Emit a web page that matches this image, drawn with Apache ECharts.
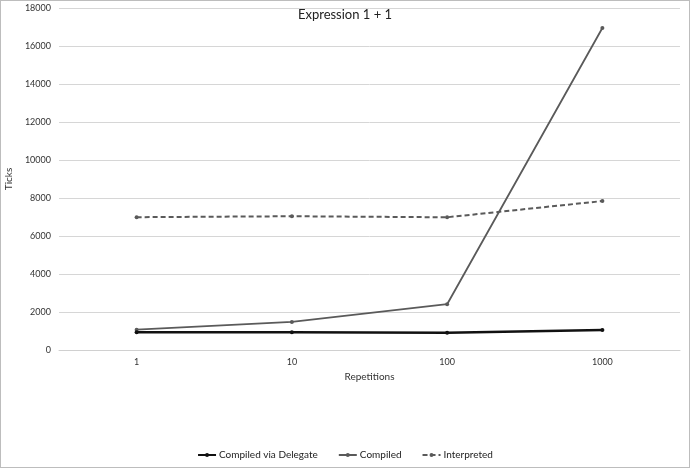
<!DOCTYPE html>
<html><head><meta charset="utf-8">
<script src="https://cdn.jsdelivr.net/npm/echarts@6/dist/echarts.min.js"></script>
<style>html,body{margin:0;padding:0;background:#fff}#c{width:690px;height:468px;box-sizing:border-box;border:1px solid #bdbdbd}</style>
</head><body><div id="c"></div>
<script>
const categories = ['1','10','100','1000'];
const compiledViaDelegate = [930, 940, 910, 1050];
const compiled = [1070, 1480, 2410, 16950];
const interpreted = [6990, 7040, 6985, 7840];
const yTicks = {min: 0, max: 18000, interval: 2000};

const chart = echarts.init(document.getElementById('c'), null, {renderer: 'canvas'});
const font = 'Lato, Carlito, sans-serif';
chart.setOption({
  animation: false,
  textStyle: {fontFamily: font},
  title: {text: 'Expression 1 + 1', left: 'center', top: 2, textStyle: {fontSize: 13, fontWeight: 'normal', color: '#222', fontFamily: font}},
  grid: {left: 58, right: 9, top: 7, bottom: 117, outerBoundsMode: 'none', containLabel: false},
  xAxis: {
    type: 'category', data: categories, boundaryGap: true,
    name: 'Repetitions', nameLocation: 'middle', nameGap: 22,
    nameTextStyle: {fontSize: 10, color: '#333'},
    axisLine: {show: true, lineStyle: {color: '#d0d0d0'}}, axisTick: {show: false},
    axisLabel: {fontSize: 9, color: '#333', margin: 8}
  },
  yAxis: {
    type: 'value', min: yTicks.min, max: yTicks.max, interval: yTicks.interval,
    name: 'Ticks', nameLocation: 'middle', nameGap: 45,
    nameTextStyle: {fontSize: 10, color: '#333'},
    axisLine: {show: false}, axisTick: {show: false},
    axisLabel: {fontSize: 9, color: '#333', margin: 8, formatter: v => String(v)},
    splitLine: {lineStyle: {color: '#d6d6d6', width: 1}}
  },
  legend: {
    top: 444, left: 'center', itemGap: 20, itemWidth: 18, itemHeight: 5,
    textStyle: {fontSize: 10, color: '#222', padding: [0, 0, 0, -2]},
    data: ['Compiled via Delegate', 'Compiled', 'Interpreted']
  },
  series: [
    {name: 'Compiled via Delegate', type: 'line', data: compiledViaDelegate, symbol: 'circle', symbolSize: 4,
     lineStyle: {color: '#111', width: 2.5}, itemStyle: {color: '#111'}, z: 3},
    {name: 'Compiled', type: 'line', data: compiled, symbol: 'circle', symbolSize: 4,
     lineStyle: {color: '#5a5a5a', width: 1.8}, itemStyle: {color: '#5a5a5a'}, z: 2},
    {name: 'Interpreted', type: 'line', data: interpreted, symbol: 'circle', symbolSize: 4,
     lineStyle: {color: '#5a5a5a', width: 2, type: [5, 3]}, itemStyle: {color: '#5a5a5a'}, z: 1}
  ]
});
</script></body></html>
